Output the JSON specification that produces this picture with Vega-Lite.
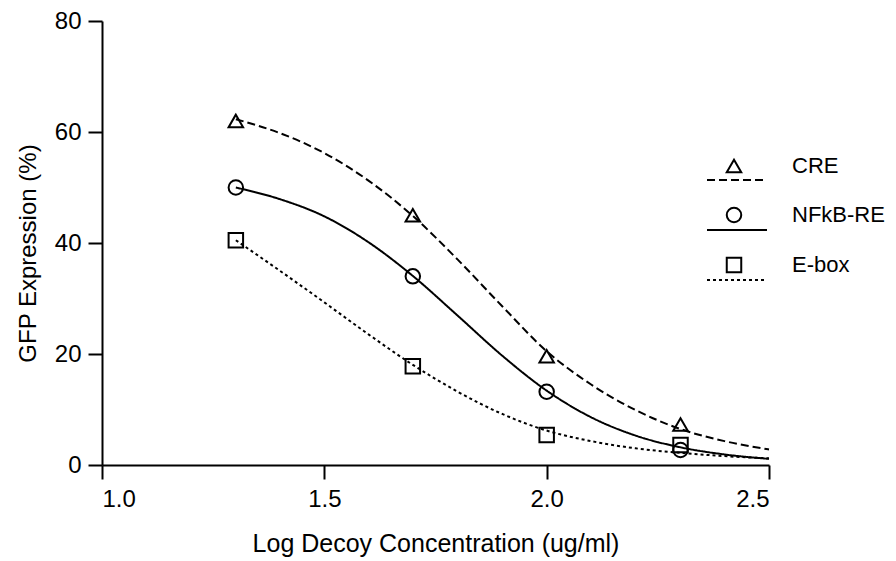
{
  "$schema": "https://vega.github.io/schema/vega-lite/v6.json",
  "autosize": "none",
  "width": 667,
  "height": 444,
  "padding": {"left": 102, "top": 21, "right": 127, "bottom": 96},
  "background": "white",
  "config": {
    "view": {"stroke": null},
    "font": "Liberation Sans",
    "axis": {
      "grid": false,
      "domainColor": "black",
      "domainWidth": 2,
      "tickColor": "black",
      "tickWidth": 2,
      "tickSize": 14,
      "labelColor": "black",
      "labelFont": "Liberation Sans",
      "labelFontSize": 24,
      "titleColor": "black",
      "titleFont": "Liberation Sans",
      "titleFontWeight": "normal"
    },
    "legend": {"padding": 0}
  },
  "datasets": {
    "pts": [
      {"x": 1.301, "y": 62.0, "marker": "CRE"},
      {"x": 1.699, "y": 45.0, "marker": "CRE"},
      {"x": 2.0, "y": 19.6, "marker": "CRE"},
      {"x": 2.301, "y": 7.3, "marker": "CRE"},
      {"x": 1.301, "y": 50.0, "marker": "NFkB-RE"},
      {"x": 1.699, "y": 34.0, "marker": "NFkB-RE"},
      {"x": 2.0, "y": 13.2, "marker": "NFkB-RE"},
      {"x": 2.301, "y": 2.7, "marker": "NFkB-RE"},
      {"x": 1.301, "y": 40.5, "marker": "E-box"},
      {"x": 1.699, "y": 17.8, "marker": "E-box"},
      {"x": 2.0, "y": 5.4, "marker": "E-box"},
      {"x": 2.301, "y": 3.6, "marker": "E-box"}
    ],
    "curves": [
      {"x": 1.301, "y": 62.3, "series": "CRE"},
      {"x": 1.4, "y": 59.8, "series": "CRE"},
      {"x": 1.5, "y": 56.2, "series": "CRE"},
      {"x": 1.6, "y": 51.2, "series": "CRE"},
      {"x": 1.7, "y": 44.8, "series": "CRE"},
      {"x": 1.8, "y": 37.0, "series": "CRE"},
      {"x": 1.9, "y": 28.6, "series": "CRE"},
      {"x": 2.0, "y": 20.5, "series": "CRE"},
      {"x": 2.1, "y": 14.5, "series": "CRE"},
      {"x": 2.2, "y": 9.9, "series": "CRE"},
      {"x": 2.3, "y": 6.5, "series": "CRE"},
      {"x": 2.4, "y": 4.3, "series": "CRE"},
      {"x": 2.5, "y": 2.8, "series": "CRE"},
      {"x": 1.301, "y": 50.0, "series": "NFkB-RE"},
      {"x": 1.4, "y": 47.9, "series": "NFkB-RE"},
      {"x": 1.5, "y": 44.8, "series": "NFkB-RE"},
      {"x": 1.6, "y": 40.1, "series": "NFkB-RE"},
      {"x": 1.7, "y": 34.0, "series": "NFkB-RE"},
      {"x": 1.8, "y": 26.9, "series": "NFkB-RE"},
      {"x": 1.9, "y": 19.7, "series": "NFkB-RE"},
      {"x": 2.0, "y": 13.4, "series": "NFkB-RE"},
      {"x": 2.1, "y": 8.6, "series": "NFkB-RE"},
      {"x": 2.2, "y": 5.3, "series": "NFkB-RE"},
      {"x": 2.3, "y": 3.2, "series": "NFkB-RE"},
      {"x": 2.4, "y": 1.9, "series": "NFkB-RE"},
      {"x": 2.5, "y": 1.1, "series": "NFkB-RE"},
      {"x": 1.301, "y": 40.5, "series": "E-box"},
      {"x": 1.4, "y": 35.0, "series": "E-box"},
      {"x": 1.5, "y": 29.3, "series": "E-box"},
      {"x": 1.6, "y": 23.5, "series": "E-box"},
      {"x": 1.7, "y": 18.0, "series": "E-box"},
      {"x": 1.8, "y": 13.2, "series": "E-box"},
      {"x": 1.9, "y": 9.2, "series": "E-box"},
      {"x": 2.0, "y": 6.2, "series": "E-box"},
      {"x": 2.1, "y": 4.3, "series": "E-box"},
      {"x": 2.2, "y": 3.0, "series": "E-box"},
      {"x": 2.3, "y": 2.2, "series": "E-box"},
      {"x": 2.4, "y": 1.6, "series": "E-box"},
      {"x": 2.5, "y": 1.2, "series": "E-box"}
    ]
  },
  "encoding": {
    "x": {
      "field": "x",
      "type": "quantitative",
      "scale": {"domain": [1, 2.5], "nice": false, "zero": false},
      "axis": {
        "values": [1, 1.5, 2, 2.5],
        "format": ".1f",
        "labelPadding": 8,
        "title": "Log Decoy Concentration (ug/ml)",
        "titleFontSize": 25,
        "titlePadding": 20
      }
    },
    "y": {
      "field": "y",
      "type": "quantitative",
      "scale": {"domain": [0, 80], "nice": false},
      "axis": {
        "values": [0, 20, 40, 60, 80],
        "labelPadding": 7,
        "title": "GFP Expression (%)",
        "titleFontSize": 24,
        "titlePadding": 14,
        "titleY": 232
      }
    }
  },
  "layer": [
    {
      "data": {"name": "curves"},
      "mark": {"type": "line", "color": "black", "strokeWidth": 2, "interpolate": "monotone"},
      "encoding": {
        "strokeDash": {
          "field": "series",
          "type": "nominal",
          "sort": ["CRE", "NFkB-RE", "E-box"],
          "scale": {"range": [[8, 4], [1, 0], [3, 3]]},
          "legend": {
            "title": null,
            "orient": "none",
            "legendX": 604,
            "legendY": 128,
            "symbolType": "stroke",
            "symbolSize": 3600,
            "symbolStrokeWidth": 2,
            "symbolStrokeColor": "black",
            "labelFontSize": 22,
            "labelExpr": "''",
            "rowPadding": 8
          }
        }
      }
    },
    {
      "data": {"name": "pts"},
      "mark": {"type": "point", "filled": false, "color": "black", "strokeWidth": 2, "size": 210, "opacity": 1},
      "encoding": {
        "shape": {
          "field": "marker",
          "type": "nominal",
          "sort": ["CRE", "NFkB-RE", "E-box"],
          "scale": {"range": ["triangle-up", "circle", "square"]},
          "legend": {
            "title": null,
            "orient": "none",
            "legendX": 621,
            "legendY": 134,
            "symbolSize": 210,
            "symbolStrokeWidth": 2,
            "symbolStrokeColor": "black",
            "symbolFillColor": "transparent",
            "labelFontSize": 22,
            "labelColor": "black",
            "labelFont": "Liberation Sans",
            "labelOffset": 47,
            "rowPadding": 26
          }
        }
      }
    }
  ]
}
